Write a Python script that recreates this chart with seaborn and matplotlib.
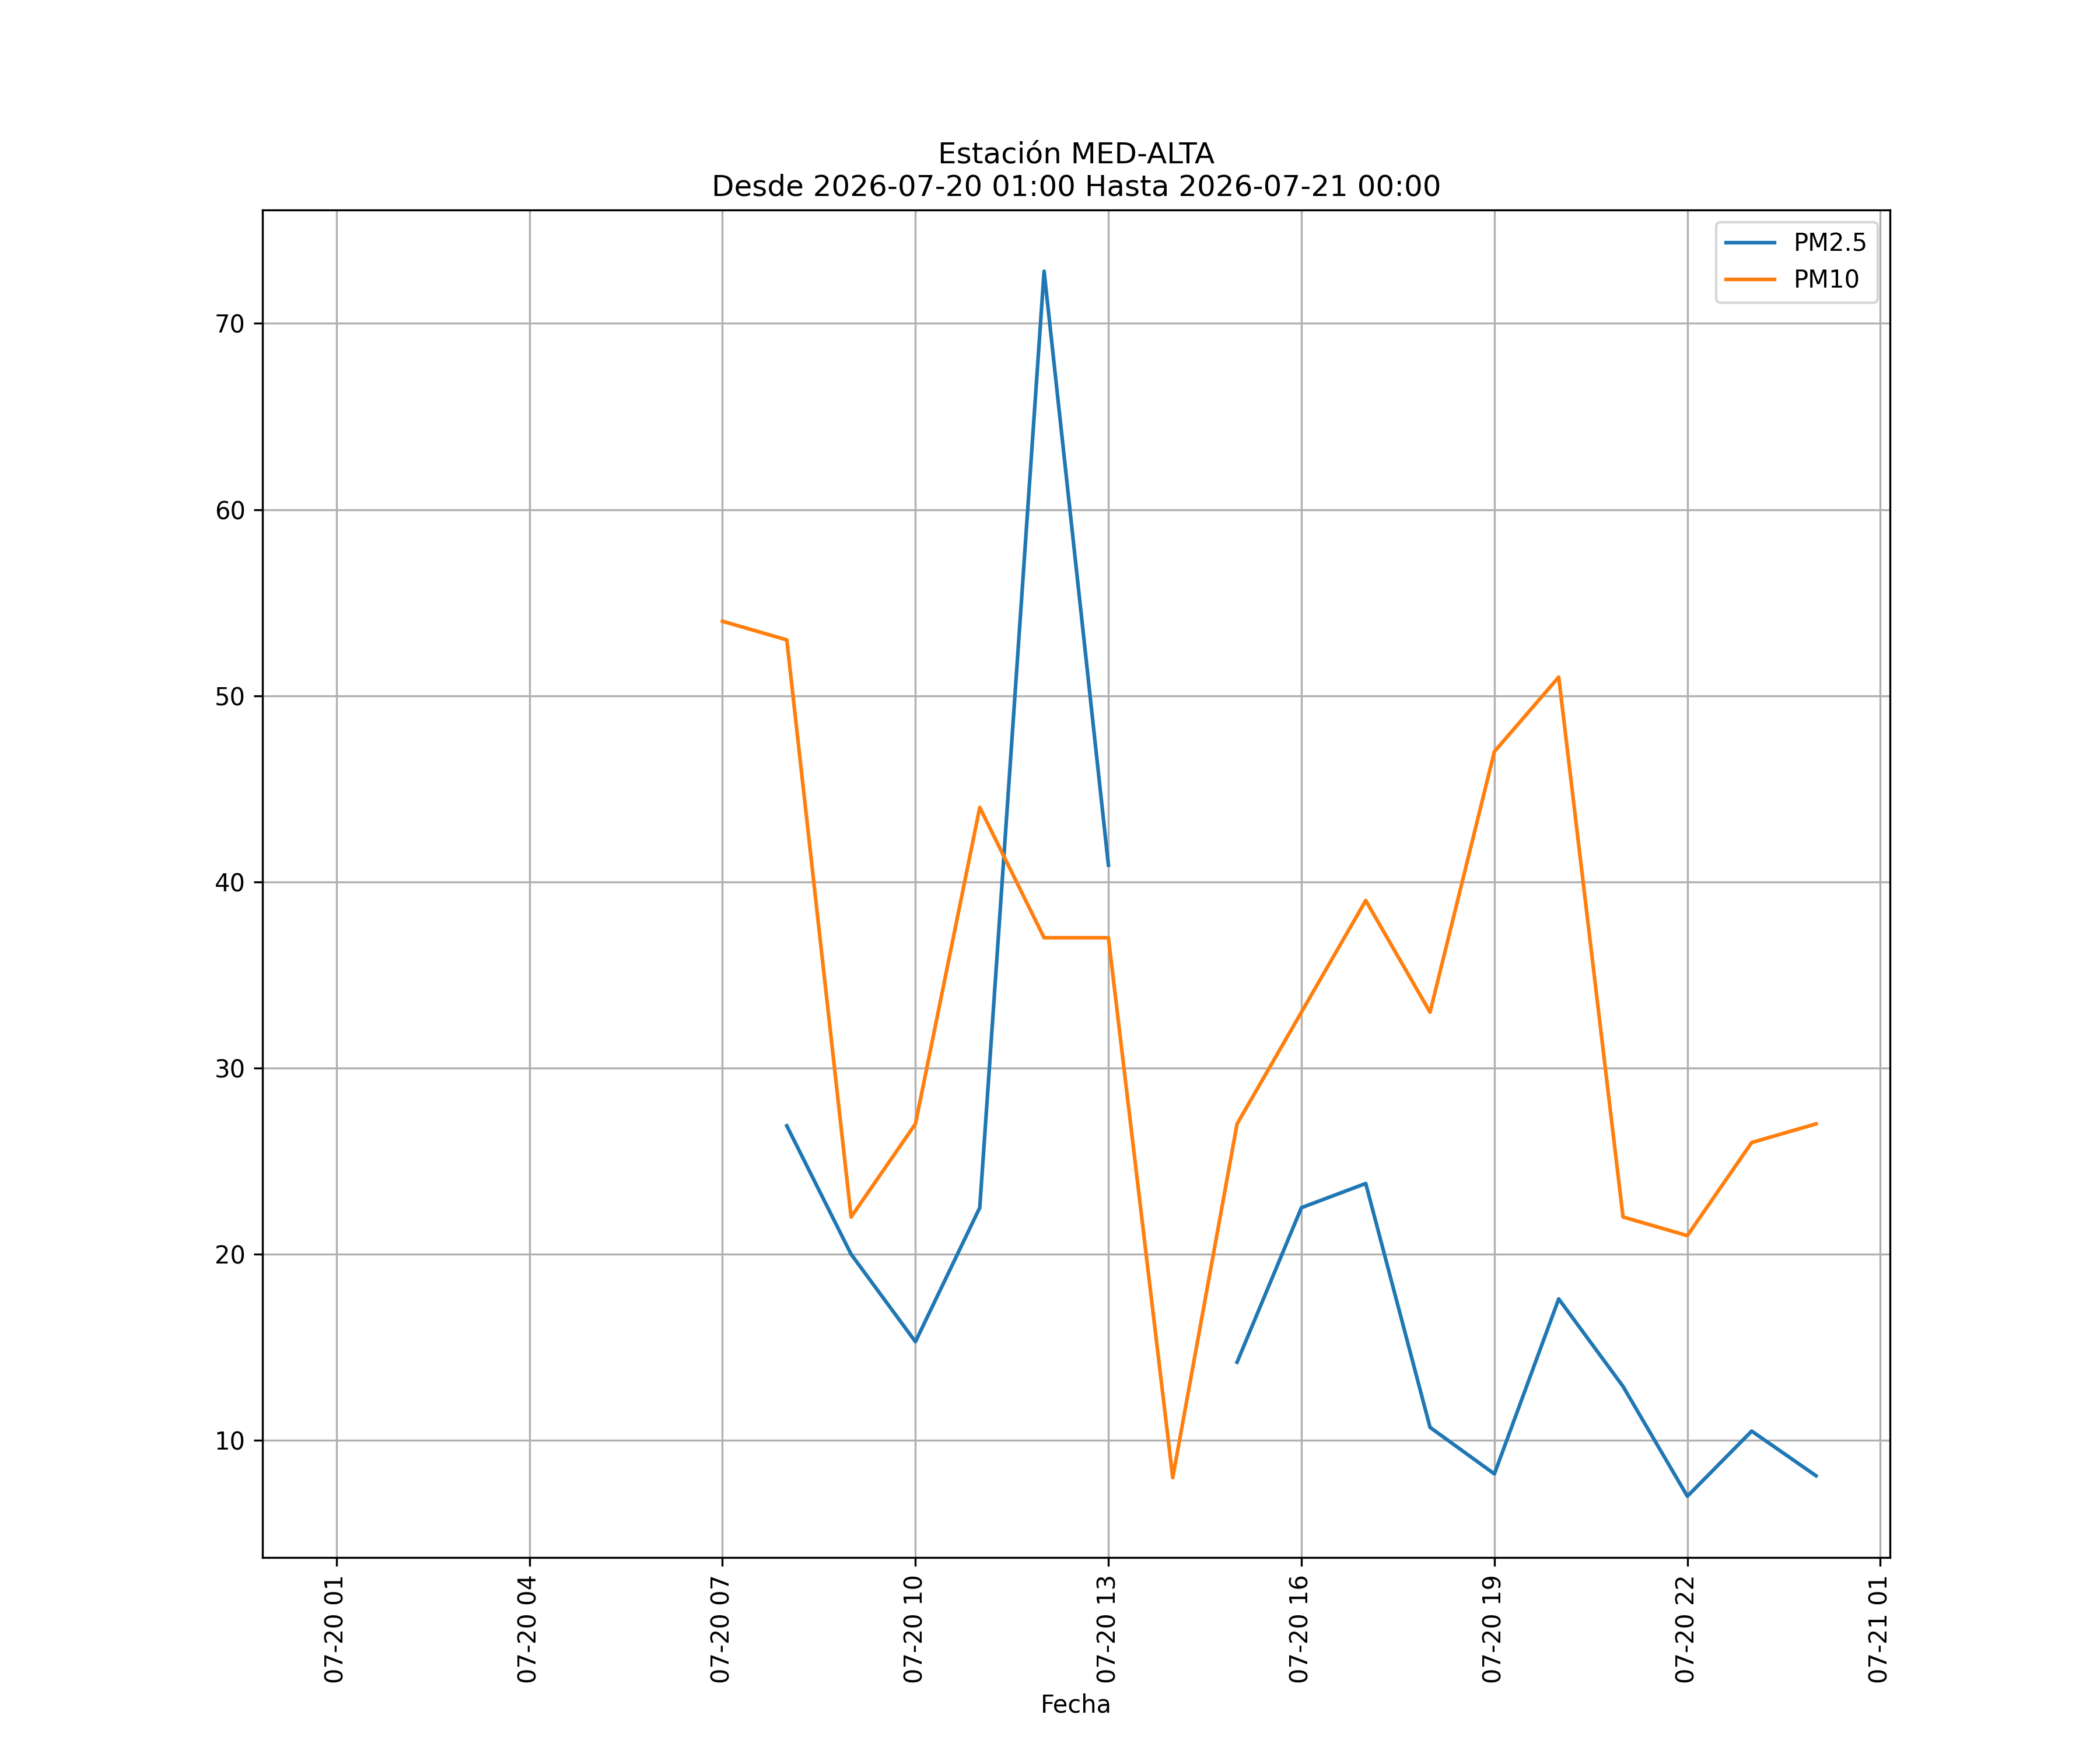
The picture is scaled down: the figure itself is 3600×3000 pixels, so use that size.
import numpy as np
import pandas as pd
import matplotlib
matplotlib.use("Agg")
import matplotlib.pyplot as plt
import matplotlib.dates as mdates
import seaborn as sns

# --- Datos horarios de la estación ---
fechas = pd.date_range("2026-07-20 01:00", "2026-07-21 00:00", freq="h")
pm25 = [np.nan, np.nan, np.nan, np.nan, np.nan, np.nan, np.nan,
        26.9, 20.0, 15.3, 22.5, 72.8, 40.9, np.nan,
        14.2, 22.5, 23.8, 10.7, 8.2, 17.6, 12.9, 7.0, 10.5, 8.1]
pm10 = [np.nan, np.nan, np.nan, np.nan, np.nan, np.nan,
        54, 53, 22, 27, 44, 37, 37, 8,
        27, 33, 39, 33, 47, 51, 22, 21, 26, 27]

titulo = "Estación MED-ALTA\nDesde 2026-07-20 01:00 Hasta 2026-07-21 00:00"

data = pd.DataFrame({"Fecha": fechas, "PM2.5": pm25, "PM10": pm10})

fig, ax = plt.subplots(figsize=(12, 10), dpi=300)


def tramos(serie):
    # separa la serie en tramos continuos para que los huecos no se unan
    grupo = serie.isna().cumsum()
    for _, parte in data[serie.notna()].groupby(grupo[serie.notna()]):
        yield parte


colores = {"PM2.5": "#1f77b4", "PM10": "#ff7f0e"}
for col in ["PM2.5", "PM10"]:
    primero = True
    for parte in tramos(data[col]):
        sns.lineplot(data=parte, x="Fecha", y=col, ax=ax, color=colores[col],
                     label=col if primero else None, linewidth=1.5)
        primero = False

# el eje cubre todo el periodo, aunque falten datos al inicio
margen = (fechas[-1] - fechas[0]) * 0.05
ax.set_xlim(fechas[0] - margen, fechas[-1] + margen)

ax.xaxis.set_major_locator(mdates.HourLocator(byhour=range(1, 24, 3)))
ax.xaxis.set_major_formatter(mdates.DateFormatter("%m-%d %H"))
plt.xticks(rotation=90)
ax.set_xlabel("Fecha")
ax.set_ylabel("")
ax.set_title(titulo)
ax.grid(True)
ax.legend(loc="upper right")

plt.savefig("out.png", dpi=300)
